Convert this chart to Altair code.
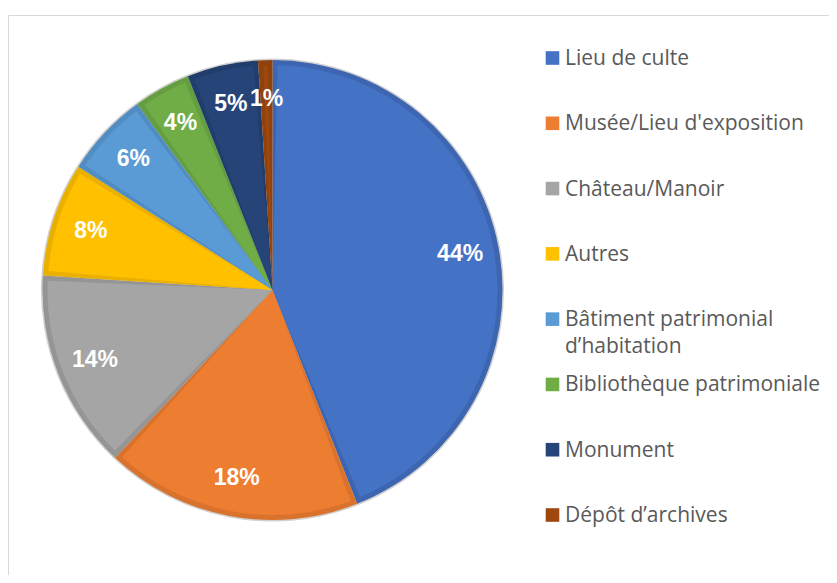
import altair as alt
import pandas as pd

categories = [
    "Lieu de culte",
    "Musée/Lieu d'exposition",
    "Château/Manoir",
    "Autres",
    "Bâtiment patrimonial\nd’habitation",
    "Bibliothèque patrimoniale",
    "Monument",
    "Dépôt d’archives",
]
values = [44, 18, 14, 8, 6, 4, 5, 1]
fills = ["#4472C4", "#ED7D31", "#A5A5A5", "#FFC000", "#5B9BD5", "#70AD47", "#264478", "#9E480E"]
edges = ["#3D65B0", "#D9722C", "#959595", "#EAB000", "#518DC3", "#659E40", "#213D6C", "#8F420D"]

df = pd.DataFrame({
    "cat": categories,
    "value": values,
    "idx": list(range(len(categories))),
    "label": [f"{v}%" for v in values],
})

CX, CY = 264.5, 282
fill_scale = alt.Scale(domain=categories, range=fills)
edge_scale = alt.Scale(domain=categories, range=edges)

base = alt.Chart(df).encode(
    theta=alt.Theta("value:Q", stack=True),
    order=alt.Order("idx:Q"),
    x=alt.value(CX),
    y=alt.value(CY),
)

shadow = base.mark_arc(outerRadius=231.5, color="#d0d0d0")
border = base.mark_arc(outerRadius=230).encode(
    color=alt.Color("cat:N", scale=edge_scale, legend=None)
)
inner = base.mark_arc(outerRadius=225, padAngle=0.044).encode(
    color=alt.Color("cat:N", scale=fill_scale, legend=None)
)
labels = base.mark_text(
    radius=191, font="Liberation Sans", fontSize=23, fontWeight="bold", color="white"
).encode(text="label:N")

frame = alt.Chart(pd.DataFrame({"a": [0]})).mark_rect(
    fillOpacity=0, stroke="#d9d9d9", strokeWidth=1
).encode(x=alt.value(0.5), x2=alt.value(1500), y=alt.value(7.5), y2=alt.value(1500))

ly = alt.Y("cat:N", sort=categories, scale=alt.Scale(type="point", range=[50, 507], padding=0), axis=None)
leg_sq = alt.Chart(df).mark_square(size=185, opacity=1).encode(
    x=alt.value(544.5),
    y=ly,
    color=alt.Color("cat:N", scale=fill_scale, legend=None),
)
leg_txt = alt.Chart(df).mark_text(
    align="left", baseline="alphabetic", dy=7, font="Open Sans", fontSize=21,
    color="#595959", lineBreak="\n", lineHeight=27
).encode(x=alt.value(557), y=ly, text="cat:N")

chart = alt.layer(frame, shadow, border, inner, labels, leg_sq, leg_txt).resolve_scale(
    color="independent"
).properties(
    width=821, height=567, padding=0, autosize=alt.AutoSizeParams(type="none")
).configure_view(stroke=None)

chart.save("out.html", embed_options={"renderer": "svg", "actions": False})
